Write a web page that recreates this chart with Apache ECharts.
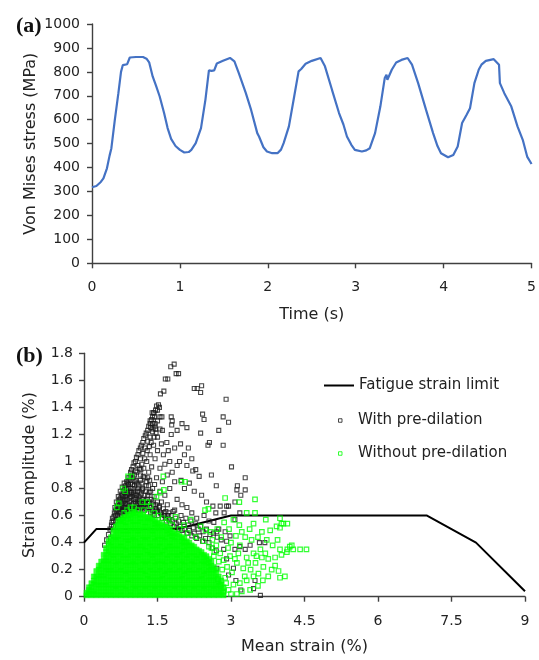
<!DOCTYPE html>
<html><head><meta charset="utf-8">
<script src="https://cdn.jsdelivr.net/npm/echarts/dist/echarts.min.js"></script>
<style>html,body{margin:0;padding:0;background:#fff}#c{width:539px;height:660px}</style>
</head><body><div id="c"></div>
<script>
// Panel (a): von Mises stress vs time
const timeS = [0,0.05,0.10,0.13,0.17,0.20,0.22,0.26,0.30,0.33,0.35,0.40,0.41,0.43,0.50,0.58,0.62,0.65,0.69,0.73,0.77,0.82,0.86,0.90,0.95,1.00,1.05,1.10,1.13,1.18,1.24,1.29,1.33,1.36,1.39,1.42,1.49,1.57,1.62,1.67,1.75,1.81,1.88,1.90,1.95,1.99,2.05,2.11,2.15,2.18,2.24,2.30,2.35,2.38,2.43,2.50,2.60,2.65,2.73,2.81,2.86,2.90,2.95,2.99,3.07,3.12,3.16,3.22,3.28,3.33,3.35,3.36,3.41,3.46,3.52,3.59,3.64,3.71,3.80,3.88,3.93,3.97,4.05,4.11,4.16,4.21,4.26,4.30,4.35,4.40,4.43,4.48,4.57,4.63,4.64,4.69,4.77,4.84,4.90,4.95,5.00];
const stressMPa = [318,323,340,355,397,450,480,600,711,800,828,832,834,860,862,862,855,840,781,740,697,628,565,520,490,474,463,465,474,502,565,683,806,804,806,835,846,858,844,795,711,641,544,530,485,467,460,460,475,502,572,697,802,812,834,846,858,823,725,628,580,530,495,474,467,472,481,544,655,774,788,767,809,839,850,858,830,753,641,544,490,460,443,453,488,586,620,648,753,810,830,846,853,830,753,711,655,572,516,446,415];

// Panel (b): fatigue strain limit
const fatigueMean = [0,0.25,0.5,1.9,3,7,8,9];
const fatigueAmp = [0.4,0.5,0.5,0.5,0.6,0.6,0.4,0.04];

// With pre-dilation (mean strain, strain amplitude) pairs
const withPre = [
1.84,1.72, 1.77,1.70, 1.88,1.65, 1.93,1.65, 1.66,1.61, 1.71,1.61, 1.63,1.52, 1.56,1.50,
2.25,1.54, 2.31,1.54, 2.40,1.56, 2.38,1.51, 2.90,1.46,
2.42,1.35, 2.45,1.31, 2.84,1.33, 2.95,1.29, 2.75,1.23, 2.38,1.21, 2.84,1.12, 2.56,1.14, 2.53,1.12, 3.01,0.96,
2.00,1.28, 2.10,1.25, 1.90,1.23, 1.97,1.13, 2.13,1.10, 2.20,1.02, 2.05,1.05, 1.95,1.00, 2.10,0.97, 1.90,0.97, 2.28,0.94, 2.22,0.93, 2.35,0.89, 2.60,0.90, 2.70,0.82,
3.13,0.82, 3.29,0.88, 3.29,0.79, 3.20,0.75, 3.08,0.70, 2.95,0.67, 3.12,0.79, 3.18,0.62,
1.78,1.33, 1.80,1.30, 1.79,1.27, 1.78,1.20, 1.69,1.14, 1.58,1.13, 1.60,1.23, 1.62,1.05, 1.72,1.08, 1.85,1.10, 1.75,1.00, 1.65,0.98, 1.80,0.92, 1.70,0.90, 1.85,0.85, 1.98,0.86, 2.05,0.80, 2.15,0.84, 2.25,0.78, 2.40,0.75, 2.50,0.70, 2.63,0.67, 2.78,0.67, 2.91,0.67, 2.69,0.62, 2.86,0.62, 3.08,0.57,
1.48,1.41, 1.52,1.42, 1.54,1.40, 1.50,1.38, 1.39,1.36, 1.44,1.33, 1.55,1.33, 1.59,1.33, 1.42,1.36,
1.35,1.30, 1.40,1.28, 1.45,1.26, 1.36,1.25, 1.41,1.24, 1.46,1.24,
0.58,0.58, 0.62,0.62, 0.65,0.64, 0.68,0.67, 0.70,0.70, 0.72,0.68, 0.75,0.73, 0.78,0.75, 0.80,0.78, 0.83,0.80, 0.85,0.82, 0.87,0.85, 0.90,0.88, 0.92,0.86, 0.95,0.92, 0.97,0.94, 1.00,0.96, 1.02,0.99, 1.05,1.00, 1.07,1.03, 1.10,1.05, 1.12,1.08, 1.15,1.10, 1.17,1.12, 1.20,1.14, 1.22,1.17, 1.25,1.19, 1.27,1.21, 1.30,1.23, 1.32,1.26, 1.35,1.28, 1.38,1.31, 1.40,1.33, 1.43,1.36, 1.46,1.38,
0.68,0.60, 0.75,0.66, 0.80,0.70, 0.86,0.75, 0.90,0.80, 0.95,0.84, 1.00,0.88, 1.05,0.93, 1.10,0.97, 1.15,1.02, 1.20,1.06, 1.25,1.10, 1.30,1.15, 1.35,1.18, 1.40,1.22, 1.45,1.28, 1.50,1.30,
0.80,0.64, 0.88,0.68, 0.95,0.74, 1.02,0.78, 1.08,0.84, 1.15,0.90, 1.22,0.95, 1.28,1.00, 1.35,1.05, 1.42,1.12, 1.50,1.18, 1.55,1.24,
1.05,0.70, 1.12,0.74, 1.20,0.80, 1.28,0.85, 1.32,0.92, 1.38,0.96, 1.45,1.02, 1.50,1.08, 1.55,0.95, 1.48,0.88, 1.40,0.80, 1.30,0.75, 1.22,0.70, 1.60,0.85, 1.55,0.78, 1.65,0.75, 1.50,0.70, 1.42,0.68, 1.75,0.80, 1.70,0.68, 1.90,0.72, 2.00,0.68, 1.85,0.64, 2.10,0.66, 2.20,0.62, 2.30,0.58, 2.45,0.60, 2.55,0.56, 2.65,0.55, 2.75,0.50,
0.42,0.38, 0.46,0.42, 0.50,0.46, 0.53,0.50, 0.56,0.53, 0.60,0.56,
0.60,0.52, 0.65,0.56, 0.70,0.58, 0.72,0.62, 0.76,0.60, 0.78,0.64, 0.82,0.60, 0.84,0.66, 0.86,0.62, 0.90,0.64, 0.92,0.70, 0.94,0.66, 0.98,0.68, 1.00,0.64, 1.02,0.72, 1.05,0.66, 1.08,0.68, 1.10,0.72, 1.12,0.64, 1.15,0.68, 1.18,0.66, 1.20,0.72, 1.24,0.64, 1.26,0.68, 1.30,0.66, 1.34,0.70, 1.36,0.62, 1.40,0.64, 1.44,0.60, 1.48,0.64, 1.52,0.60, 1.56,0.62, 1.60,0.58, 1.64,0.60, 1.68,0.56, 1.72,0.58, 1.76,0.54, 1.80,0.56, 1.84,0.52, 1.88,0.54, 1.92,0.50, 1.96,0.52, 2.00,0.49, 2.05,0.50, 2.10,0.47, 2.15,0.49, 2.20,0.45, 2.25,0.47, 2.30,0.43, 2.36,0.45, 2.42,0.41, 2.48,0.43, 2.55,0.40, 2.62,0.36, 2.70,0.34,
0.66,0.70, 0.70,0.74, 0.74,0.78, 0.76,0.70, 0.80,0.74, 0.82,0.84, 0.86,0.78, 0.88,0.72, 0.92,0.76, 0.96,0.80, 0.98,0.74, 1.00,0.80, 1.04,0.76, 1.06,0.86, 1.10,0.80, 1.14,0.78, 1.18,0.84, 1.16,0.94, 1.24,0.88, 1.26,0.78, 1.32,0.82,
0.63,0.66, 0.67,0.63, 0.73,0.65, 0.79,0.68, 0.83,0.71, 0.89,0.76, 0.93,0.73, 0.97,0.77, 1.03,0.82, 1.07,0.75, 1.13,0.70, 1.17,0.76, 1.23,0.75, 1.29,0.72, 1.33,0.77, 1.37,0.72, 1.43,0.74, 1.47,0.68, 1.53,0.66, 1.58,0.70, 1.62,0.65, 1.67,0.63, 1.73,0.62, 1.78,0.60, 1.82,0.63, 1.87,0.58, 1.93,0.56, 1.98,0.60, 2.03,0.55, 2.08,0.58, 2.13,0.53, 2.18,0.56, 2.23,0.51, 2.28,0.54, 2.33,0.50, 2.38,0.52, 2.43,0.48, 2.50,0.50, 2.57,0.46, 2.64,0.47, 2.72,0.44, 2.80,0.42,
0.57,0.55, 0.61,0.59, 0.64,0.60, 0.69,0.64, 0.71,0.66, 0.74,0.62, 0.77,0.67, 0.81,0.66, 0.85,0.69, 0.87,0.64, 0.91,0.67, 0.93,0.63, 0.96,0.70, 0.99,0.65, 1.01,0.69, 1.04,0.64, 1.06,0.73, 1.09,0.66, 1.11,0.69, 1.14,0.73, 1.16,0.65, 1.19,0.69, 1.21,0.67, 1.25,0.71, 1.27,0.65, 1.31,0.69, 1.35,0.66, 1.39,0.70, 1.41,0.61, 1.46,0.65, 1.50,0.63, 1.54,0.67, 1.58,0.61, 1.63,0.62, 1.66,0.58, 1.71,0.60, 1.75,0.57,
0.72,0.72, 0.77,0.76, 0.79,0.72, 0.84,0.74, 0.87,0.80, 0.91,0.83, 0.94,0.78, 0.99,0.83, 1.01,0.76, 1.04,0.85, 1.09,0.78, 1.12,0.82, 1.15,0.86, 1.19,0.79, 1.21,0.89, 1.27,0.82, 1.30,0.88, 1.34,0.86, 1.36,0.78, 1.44,0.83, 0.78,0.81, 0.83,0.77, 0.89,0.84, 0.94,0.88, 0.98,0.90, 1.03,0.90, 1.08,0.92, 1.13,0.95, 1.18,0.98, 1.24,1.02, 1.29,1.08, 1.33,1.11, 1.37,1.14, 1.43,1.18, 1.47,1.21,
2.91,0.41, 2.88,0.48, 2.71,0.48, 3.58,0.40, 3.69,0.40, 3.39,0.38, 3.29,0.35, 3.08,0.35, 3.18,0.37, 3.49,0.12, 3.60,0.01, 3.05,0.21, 2.91,0.28, 3.46,0.06, 3.10,0.12, 2.71,0.21, 2.95,0.16, 3.20,0.05, 2.85,0.35, 2.98,0.45
];

// Without pre-dilation: scattered points (pairs)
const withoutPreSparse = [
0.90,0.89, 0.97,0.89, 0.84,0.78, 0.80,0.80, 1.62,0.89, 1.99,0.85, 2.06,0.85, 1.48,0.74, 1.55,0.77, 1.63,0.79, 1.19,0.70, 1.29,0.70, 0.71,0.69, 0.67,0.66, 1.09,0.64, 1.36,0.67, 1.43,0.62, 0.82,0.62, 1.73,0.57, 1.87,0.59, 2.04,0.53, 2.18,0.57, 2.38,0.52, 2.48,0.49, 2.59,0.48, 0.88,0.64, 0.95,0.66, 1.02,0.66, 1.22,0.64, 1.30,0.62, 1.52,0.60, 1.60,0.58, 1.68,0.55, 1.80,0.53, 1.95,0.50, 2.12,0.47, 2.28,0.44, 2.44,0.41, 2.55,0.37, 2.66,0.33,
2.88,0.73, 3.17,0.70, 3.49,0.72, 2.47,0.64, 2.54,0.65, 3.32,0.62, 3.49,0.62, 3.71,0.57, 4.00,0.58, 4.03,0.54, 4.15,0.54, 4.07,0.54, 3.93,0.52, 4.00,0.51, 3.63,0.48, 3.80,0.49, 3.46,0.54, 3.17,0.53, 3.05,0.57, 3.73,0.42, 3.42,0.42, 3.29,0.44, 3.18,0.38, 4.00,0.35, 4.15,0.35, 4.27,0.35, 4.41,0.35, 4.54,0.35, 4.20,0.37, 4.24,0.38, 4.03,0.31, 3.90,0.29, 3.76,0.28, 3.63,0.29, 3.46,0.32, 3.32,0.29, 3.66,0.22, 3.83,0.20, 3.97,0.19, 4.10,0.15, 4.00,0.14, 4.14,0.33, 3.76,0.15, 3.56,0.17, 3.46,0.15, 3.32,0.12, 3.18,0.10, 3.05,0.09, 3.22,0.04, 3.39,0.05, 3.25,0.21, 3.12,0.25,
2.62,0.42, 2.70,0.38, 2.78,0.32, 2.85,0.27, 2.92,0.22, 2.98,0.30, 3.02,0.18, 2.88,0.14, 2.95,0.05, 3.08,0.28, 3.15,0.32, 2.75,0.26, 2.82,0.20, 2.90,0.10, 3.00,0.40, 2.94,0.36, 2.80,0.44, 2.72,0.50, 2.86,0.55, 2.96,0.50, 3.10,0.45, 3.22,0.48, 3.38,0.50, 3.55,0.44, 3.60,0.35, 3.50,0.25, 3.40,0.20, 3.70,0.32, 3.85,0.38, 3.95,0.42, 2.65,0.30, 2.60,0.36, 2.78,0.08, 2.84,0.03, 3.00,0.02, 3.12,0.02, 2.73,0.13, 3.28,0.15, 3.35,0.25, 3.55,0.08, 3.65,0.12, 3.90,0.23, 3.52,0.30
];

// Without pre-dilation: dense core, listed per mean-strain column [mean, [amplitudes]]
const withoutPreCore = [
[0.05,[.01,.03]],
[0.10,[.02,.05,.07]],
[0.15,[.01,.04,.07,.10]],
[0.20,[.02,.05,.09,.12,.15]],
[0.25,[.01,.04,.08,.11,.15,.19]],
[0.30,[.02,.06,.09,.13,.16,.20,.23]],
[0.35,[.01,.04,.08,.11,.15,.18,.22,.26]],
[0.40,[.02,.06,.09,.13,.16,.20,.24,.27,.31]],
[0.45,[.01,.04,.08,.11,.15,.19,.22,.26,.29,.33,.36]],
[0.50,[.02,.06,.09,.13,.17,.20,.24,.27,.31,.34,.38,.41]],
[0.55,[.01,.04,.08,.12,.15,.19,.22,.26,.30,.33,.37,.40,.44]],
[0.60,[.02,.06,.09,.13,.17,.20,.24,.28,.31,.35,.38,.42,.45,.49]],
[0.65,[.01,.05,.08,.12,.15,.19,.23,.26,.30,.33,.37,.41,.44,.48,.52]],
[0.70,[.02,.06,.09,.13,.17,.20,.24,.27,.31,.35,.38,.42,.45,.49,.53,.56]],
[0.75,[.01,.04,.08,.12,.15,.19,.22,.26,.30,.33,.37,.40,.44,.48,.51,.55,.57]],
[0.80,[.02,.06,.09,.13,.17,.20,.24,.28,.31,.35,.38,.42,.46,.49,.53,.56,.58]],
[0.85,[.01,.05,.08,.12,.16,.19,.23,.26,.30,.34,.37,.41,.44,.48,.52,.55,.59]],
[0.90,[.02,.06,.10,.13,.17,.20,.24,.28,.31,.35,.39,.42,.46,.49,.53,.57,.60]],
[0.95,[.01,.04,.08,.12,.15,.19,.23,.26,.30,.33,.37,.41,.44,.48,.51,.55,.58,.61]],
[1.00,[.02,.06,.09,.13,.17,.20,.24,.27,.31,.35,.38,.42,.45,.49,.53,.56,.60,.62]],
[1.05,[.01,.05,.08,.12,.15,.19,.23,.26,.30,.33,.37,.41,.44,.48,.51,.55,.59,.62]],
[1.10,[.02,.06,.09,.13,.17,.20,.24,.28,.31,.35,.38,.42,.46,.49,.53,.56,.60]],
[1.15,[.01,.04,.08,.12,.15,.19,.22,.26,.30,.33,.37,.40,.44,.48,.51,.55,.58,.61]],
[1.20,[.02,.06,.09,.13,.17,.20,.24,.27,.31,.35,.38,.42,.45,.49,.52,.56,.60]],
[1.25,[.01,.05,.08,.12,.16,.19,.23,.26,.30,.34,.37,.41,.44,.48,.52,.55,.59]],
[1.30,[.02,.06,.09,.13,.16,.20,.24,.27,.31,.34,.38,.42,.45,.49,.52,.56,.58]],
[1.35,[.01,.04,.08,.12,.15,.19,.22,.26,.30,.33,.37,.40,.44,.48,.51,.55,.58]],
[1.40,[.02,.06,.09,.13,.17,.20,.24,.28,.31,.35,.38,.42,.46,.49,.53,.57]],
[1.45,[.01,.05,.08,.12,.15,.19,.23,.26,.30,.33,.37,.41,.44,.48,.51,.54,.56]],
[1.50,[.02,.06,.09,.13,.17,.20,.24,.27,.31,.35,.38,.42,.45,.49,.52,.55]],
[1.55,[.01,.04,.08,.12,.15,.19,.22,.26,.30,.33,.37,.40,.44,.48,.51,.54]],
[1.60,[.02,.06,.09,.13,.16,.20,.24,.27,.31,.34,.38,.42,.45,.49,.53]],
[1.65,[.01,.05,.08,.12,.16,.19,.23,.26,.30,.34,.37,.41,.44,.48,.52]],
[1.70,[.02,.06,.09,.13,.17,.20,.24,.28,.31,.35,.38,.42,.46,.49,.51]],
[1.75,[.01,.04,.08,.12,.15,.19,.22,.26,.30,.33,.37,.40,.44,.47,.50]],
[1.80,[.02,.06,.09,.13,.17,.20,.24,.27,.31,.35,.38,.42,.45,.48]],
[1.85,[.01,.05,.08,.12,.15,.19,.23,.26,.30,.33,.37,.41,.44,.47]],
[1.90,[.02,.06,.09,.13,.17,.20,.24,.28,.31,.35,.38,.42,.46]],
[1.95,[.01,.04,.08,.12,.15,.19,.22,.26,.30,.33,.37,.41,.45]],
[2.00,[.02,.06,.09,.13,.16,.20,.24,.27,.31,.34,.38,.41,.44]],
[2.05,[.01,.05,.08,.12,.16,.19,.23,.26,.30,.34,.37,.40,.43]],
[2.10,[.02,.06,.09,.13,.17,.20,.24,.28,.31,.35,.38,.41]],
[2.15,[.01,.04,.08,.12,.15,.19,.22,.26,.30,.33,.37,.40]],
[2.20,[.02,.06,.09,.13,.17,.20,.24,.27,.31,.35,.38]],
[2.25,[.01,.05,.08,.12,.15,.19,.23,.26,.30,.33,.37]],
[2.30,[.02,.06,.09,.13,.17,.20,.24,.28,.31,.35]],
[2.35,[.01,.04,.08,.12,.15,.19,.22,.26,.30,.34]],
[2.40,[.02,.06,.09,.13,.16,.20,.24,.27,.31,.33]],
[2.45,[.01,.05,.08,.12,.16,.19,.23,.26,.29,.31]],
[2.50,[.02,.06,.09,.13,.17,.20,.24,.27,.30]],
[2.55,[.01,.04,.08,.12,.15,.19,.22,.25,.28]],
[2.60,[.02,.06,.09,.13,.17,.20,.23,.26]],
[2.65,[.01,.05,.08,.12,.15,.19,.22]],
[2.70,[.02,.06,.09,.13,.17,.20]],
[2.75,[.01,.04,.08,.11,.15]],
[2.80,[.02,.06,.09,.12]],
[2.85,[.01,.04,.07]]
];

function pairs(flat){const out=[];for(let i=0;i<flat.length;i+=2)out.push([flat[i],flat[i+1]]);return out;}
const withPreData = pairs(withPre);
const withoutSparseData = pairs(withoutPreSparse);
const withoutCoreData = [];
withoutPreCore.forEach(c=>c[1].forEach(a=>withoutCoreData.push([c[0],a])));

const FONT='DejaVu Sans';
const txt='#222';
const axisLine={show:true,lineStyle:{color:'#404040',width:1.4}};
const axisTick={show:true,inside:false,length:5,lineStyle:{color:'#404040',width:1.4}};
const plain=v=>String(v);

const chart = echarts.init(document.getElementById('c'),null,{renderer:'canvas'});
chart.setOption({
  animation:false,
  backgroundColor:'#fff',
  title:[
    {text:'(a)',left:11,top:10,textStyle:{fontFamily:'Liberation Serif',fontWeight:'bold',fontSize:22,color:'#111'}},
    {text:'(b)',left:11,top:340,textStyle:{fontFamily:'Liberation Serif',fontWeight:'bold',fontSize:22,color:'#111'}}
  ],
  grid:[
    {left:92,right:5,top:24,height:239.3},
    {left:84,right:14,top:353.3,height:243.4}
  ],
  legend:[
    {data:[{name:'Fatigue strain limit',icon:'path://M0,0H30V2H0Z'}],left:319,top:373,itemWidth:30,itemHeight:14,
     textStyle:{fontFamily:FONT,fontSize:15,color:txt}},
    {data:['With pre-dilation','Without pre-dilation'],orient:'vertical',left:333,top:408,
     itemWidth:3.5,itemHeight:3.5,itemGap:18,itemStyle:{borderWidth:1},
     textStyle:{fontFamily:FONT,fontSize:15,color:txt,padding:[0,0,0,11]}}
  ],
  xAxis:[
    {type:'value',gridIndex:0,min:0,max:5,interval:1,name:'Time (s)',nameLocation:'middle',nameGap:44,nameMoveOverlap:false,
     nameTextStyle:{fontFamily:FONT,fontSize:16,color:txt},
     axisLine,axisTick,splitLine:{show:false},
     axisLabel:{fontFamily:FONT,fontSize:14,color:txt,margin:17,formatter:plain}},
    {type:'value',gridIndex:1,min:0,max:9,interval:1.5,name:'Mean strain (%)',nameLocation:'middle',nameGap:42,nameMoveOverlap:false,
     nameTextStyle:{fontFamily:FONT,fontSize:16,color:txt},
     axisLine,axisTick,splitLine:{show:false},
     axisLabel:{fontFamily:FONT,fontSize:14,color:txt,margin:18,formatter:plain}}
  ],
  yAxis:[
    {type:'value',gridIndex:0,min:0,max:1000,interval:100,name:'Von Mises stress (MPa)',nameLocation:'middle',nameGap:53,nameMoveOverlap:false,
     nameTextStyle:{fontFamily:FONT,fontSize:16,color:txt},
     axisLine,axisTick,splitLine:{show:false},
     axisLabel:{fontFamily:FONT,fontSize:14,color:txt,margin:12,formatter:plain}},
    {type:'value',gridIndex:1,min:0,max:1.8,interval:0.2,name:'Strain amplitude (%)',nameLocation:'middle',nameGap:46,nameMoveOverlap:false,
     nameTextStyle:{fontFamily:FONT,fontSize:16,color:txt},
     axisLine,axisTick,splitLine:{show:false},
     axisLabel:{fontFamily:FONT,fontSize:14,color:txt,margin:11}}
  ],
  series:[
    {name:'Von Mises stress',type:'line',xAxisIndex:0,yAxisIndex:0,showSymbol:false,symbol:'none',
     lineStyle:{color:'#4472C4',width:2.2},data:timeS.map((t,i)=>[t,stressMPa[i]])},
    {name:'Fatigue strain limit',type:'line',xAxisIndex:1,yAxisIndex:1,symbol:'none',showSymbol:false,z:1,
     lineStyle:{color:'#000',width:2},itemStyle:{color:'#000'},
     data:fatigueMean.map((m,i)=>[m,fatigueAmp[i]])},
    {name:'With pre-dilation',type:'scatter',xAxisIndex:1,yAxisIndex:1,symbol:'rect',symbolSize:4,z:3,
     progressive:0,itemStyle:{color:'rgba(0,0,0,0)',borderColor:'#1a1a1a',borderWidth:1.1},data:withPreData},
    {name:'Without pre-dilation',type:'scatter',xAxisIndex:1,yAxisIndex:1,symbol:'rect',symbolSize:4.5,z:4,
     progressive:0,itemStyle:{color:'rgba(0,0,0,0)',borderColor:'#00ff00',borderWidth:1.2},data:withoutSparseData},
    {name:'Without pre-dilation',type:'scatter',xAxisIndex:1,yAxisIndex:1,symbol:'rect',symbolSize:5,z:4,
     progressive:0,itemStyle:{color:'#00ff00',borderColor:'#00ff00',borderWidth:0.5},data:withoutCoreData}
  ]
});
</script>
</body></html>
